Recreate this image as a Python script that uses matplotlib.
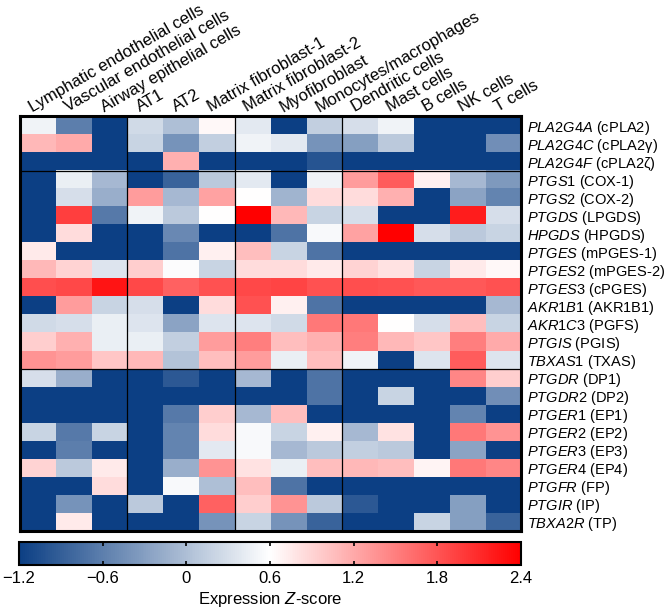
# heatmap of prostanoid pathway genes across lung cell types

import matplotlib.pyplot as plt
import numpy as np
from matplotlib.colors import LinearSegmentedColormap

plt.rcParams['font.family'] = ['Liberation Sans', 'DejaVu Sans']
plt.rcParams['mathtext.fontset'] = 'custom'
plt.rcParams['mathtext.rm'] = 'Liberation Sans'
plt.rcParams['mathtext.it'] = 'Liberation Sans:italic'

cell_types = ["Lymphatic endothelial cells", "Vascular endothelial cells",
              "Airway epithelial cells", "AT1", "AT2",
              "Matrix fibroblast-1", "Matrix fibroblast-2", "Myofibroblast",
              "Monocytes/macrophages", "Dendritic cells", "Mast cells",
              "B cells", "NK cells", "T cells"]

genes = ["PLA2G4A", "PLA2G4C", "PLA2G4F",
         "PTGS1", "PTGS2", "PTGDS", "HPGDS", "PTGES", "PTGES2", "PTGES3",
         "AKR1B1", "AKR1C3", "PTGIS", "TBXAS1",
         "PTGDR", "PTGDR2", "PTGER1", "PTGER2", "PTGER3", "PTGER4",
         "PTGFR", "PTGIR", "TBXA2R"]

proteins = ["cPLA2", "cPLA2γ", "cPLA2ζ",
            "COX-1", "COX-2", "LPGDS", "HPGDS", "mPGES-1", "mPGES-2", "cPGES",
            "AKR1B1", "PGFS", "PGIS", "TXAS",
            "DP1", "DP2", "EP1", "EP2", "EP3", "EP4",
            "FP", "IP", "TP"]

D = -1.2  # saturated low end

# phospholipases
pla2_z = [
    [0.5, -0.6, D, 0.25, 0.0, 0.65, 0.4, D, 0.15, 0.3, 0.5, D, D, D],
    [1.1, 1.2, D, 0.2, -0.4, 0.15, 0.5, 0.4, -0.4, -0.3, 0.1, D, D, -0.45],
    [D, D, D, D, 1.15, D, D, D, -1.0, D, D, D, D, D],
]

# synthases
synth_z = [
    [D, 0.45, -0.05, D, -0.85, 0.1, 0.4, D, 0.5, 1.3, 1.75, 0.7, -0.05, -0.35],
    [D, 0.3, -0.15, 1.3, -0.05, 1.25, 0.6, -0.1, 0.85, 0.85, 1.15, D, -0.25, -0.55],
    [D, 1.95, -0.65, 0.5, 0.1, 0.6, 2.4, 1.1, 0.2, 0.3, D, D, 2.2, 0.3],
    [D, 0.85, D, D, -0.5, D, D, -0.7, 0.55, 1.25, 2.4, 0.3, 0.1, 0.2],
    [0.75, D, D, D, -0.7, 0.7, 1.05, 0.2, -0.7, D, D, D, D, D],
    [1.1, 0.9, 0.35, 0.95, 0.58, 0.2, 0.85, 0.85, 0.75, 0.9, 0.8, 0.2, 0.75, 0.65],
    [1.85, 1.88, 2.25, 1.88, 1.7, 1.82, 1.88, 1.92, 1.82, 1.85, 1.82, 1.78, 1.78, 1.82],
    [D, 1.3, 0.2, 0.3, D, 0.85, 1.82, 0.7, -0.7, D, D, D, D, -0.05],
    [0.25, 0.3, 0.45, 0.35, -0.25, 0.35, 0.35, 0.25, 1.55, 1.55, 0.6, 0.3, 1.05, 0.2],
    [0.95, 1.15, 0.45, 0.45, 0.15, 1.3, 1.5, 1.05, 1.15, 1.5, 1.1, 1.0, 1.5, 1.2],
    [1.35, 1.3, 1.0, 1.1, 0.05, 1.05, 1.3, 0.45, 1.05, 0.5, D, 0.35, 1.75, 0.35],
]

# receptors
recep_z = [
    [0.3, -0.15, D, D, -0.95, D, -0.05, D, -0.7, D, D, D, 1.45, 0.95],
    [D, D, D, D, D, D, D, D, -0.7, D, 0.2, D, D, -0.45],
    [D, D, D, D, -0.65, 0.95, -0.05, 1.05, D, D, D, D, -0.55, D],
    [0.2, -0.65, 0.2, D, -0.55, 0.85, 0.55, 0.2, 0.7, -0.05, 0.8, D, 1.55, 1.35],
    [D, -0.6, D, D, -0.55, 0.4, 0.55, -0.05, 0.1, 0.15, 0.1, D, -0.25, D],
    [0.9, 0.1, 0.75, D, -0.15, 1.35, 0.8, 0.45, 1.05, 1.1, 1.05, 0.68, 1.55, 1.45],
    [D, D, 0.85, D, 0.55, 0.0, 1.05, -0.7, D, D, D, D, D, D],
    [D, -0.4, D, 0.1, D, 1.7, 0.95, 1.35, 0.1, -0.95, D, D, -0.3, D],
    [D, 0.75, D, D, D, -0.4, 0.2, -0.4, -0.85, D, D, 0.2, -0.3, -0.85],
]

zscore = np.array(pla2_z + synth_z + recep_z)

cmap = LinearSegmentedColormap.from_list(
    "bwr_z", [(0.0, "#0c3f84"), (0.5, "#ffffff"), (1.0, "#ff0000")])

fig = plt.figure(figsize=(6.7, 6.11), dpi=100)
ax = fig.add_axes([0.0299, 0.131, 0.7478, 0.6784])

im = ax.imshow(zscore, cmap=cmap, vmin=-1.2, vmax=2.4, aspect="auto",
               interpolation="nearest")

for x in [2.5, 5.5, 8.5]:
    ax.axvline(x, color="black", lw=0.9)
for y in [2.5, 13.5]:
    ax.axhline(y, color="black", lw=0.9)

for s in ax.spines.values():
    s.set_linewidth(2.2)
    s.set_color("black")

# column labels on top, slanted
ax.xaxis.tick_top()
ax.set_xticks(np.arange(len(cell_types)) - 0.15)
ax.set_xticklabels(cell_types, rotation=30, ha="left", va="baseline",
                   rotation_mode="anchor", fontsize=12)
ax.tick_params(axis="x", length=0, pad=3)

# gene (protein) labels on the right
ax.yaxis.tick_right()
ax.set_yticks(np.arange(len(genes)))
ax.set_yticklabels([r"$\mathit{%s}$ (%s)" % (g, p) for g, p in zip(genes, proteins)],
                   fontsize=10.5)
ax.tick_params(axis="y", length=0, pad=4)
ax.set_xlim(-0.5, len(cell_types) - 0.5)
ax.set_ylim(len(genes) - 0.5, -0.5)

cax = fig.add_axes([0.0284, 0.0753, 0.749, 0.0376])
cb = fig.colorbar(im, cax=cax, orientation="horizontal")
cb.set_ticks([-1.2, -0.6, 0, 0.6, 1.2, 1.8, 2.4])
cb.set_ticklabels(["\u22121.2", "\u22120.6", "0", "0.6", "1.2", "1.8", "2.4"])
cax.tick_params(axis="x", top=True, bottom=True, direction="in", length=3,
                width=1.2, labelsize=12, pad=4)
cb.outline.set_linewidth(1.5)
cb.set_label(r"Expression $\mathit{Z}$-score", fontsize=12, labelpad=3)

plt.savefig("out.png", dpi=100)
